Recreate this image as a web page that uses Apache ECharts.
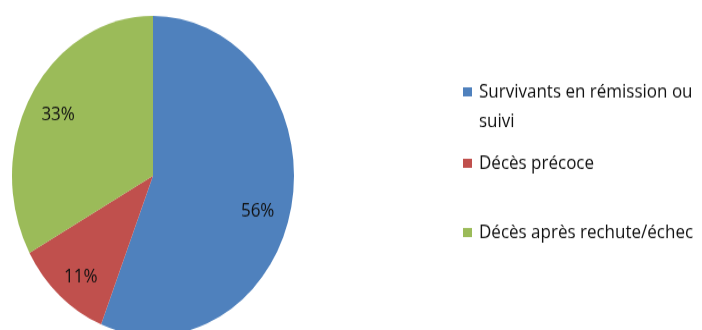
<!DOCTYPE html>
<html>
<head>
<meta charset="utf-8">
<script src="https://cdn.jsdelivr.net/npm/echarts@6/dist/echarts.min.js"></script>
<style>
  html, body { margin: 0; padding: 0; background: #fff; overflow: hidden; width: 702px; height: 330px; }
  /* the chart is drawn at 702x291 and stretched vertically to fill 330px */
  #chart { width: 702px; height: 291px; transform: scaleY(1.134); transform-origin: 0 0; }
</style>
</head>
<body>
<div id="chart"></div>
<script>
// Outcome categories and their shares (%)
const categories = ['Survivants en rémission ou suivi', 'Décès précoce', 'Décès après rechute/échec'];
const shares = [56, 11, 33];
const colors = ['#4F81BD', '#C0504D', '#9BBB59'];

const FONT = 'Open Sans';
const LINE = 26;
const CX = 153, CY = 155, R = 141;

const pieData = categories.map((name, i) => ({
  name, value: shares[i], itemStyle: { color: colors[i] }
}));

// the long first entry wraps; a blank leading line keeps its marker beside the first text line
const legendText = n => n === categories[0] ? '\nSurvivants en rémission ou\nsuivi' : n;

// one legend block per category
const legendTops = [42, 131, 192];
const legends = categories.map((name, i) => ({
  orient: 'vertical',
  left: 463,
  top: legendTops[i],
  padding: 0,
  itemWidth: 9,
  itemHeight: 8,
  icon: 'rect',
  selectedMode: false,
  data: [{ name, itemStyle: { color: colors[i] } }],
  formatter: legendText,
  textStyle: {
    fontFamily: FONT, fontSize: 17, color: '#111', lineHeight: LINE,
    padding: [0, 0, 0, 2]
  }
}));

const chart = echarts.init(document.getElementById('chart'), null, { renderer: 'canvas' });
chart.setOption({
  animation: false,
  backgroundColor: '#fff',
  legend: legends,
  series: [
    {
      type: 'pie',
      center: [CX, CY],
      radius: R,
      startAngle: 90,
      clockwise: true,
      silent: true,
      label: { show: false },
      labelLine: { show: false },
      itemStyle: { borderWidth: 0 },
      data: pieData
    },
    {
      // transparent twin that carries the percentage labels further out
      type: 'pie',
      center: [CX, CY],
      radius: R * 1.57,
      startAngle: 90,
      clockwise: true,
      silent: true,
      itemStyle: { color: 'rgba(0,0,0,0)', borderWidth: 0 },
      label: {
        show: true,
        position: 'inside',
        formatter: p => p.value + '%',
        fontFamily: FONT,
        fontSize: 17,
        color: '#111'
      },
      labelLayout: p => (p.dataIndex === 0 ? { dx: -7, dy: 10 } : { dx: 3, dy: 4 }),
      labelLine: { show: false },
      data: categories.map((name, i) => ({ name, value: shares[i] }))
    }
  ]
});
</script>
</body>
</html>
